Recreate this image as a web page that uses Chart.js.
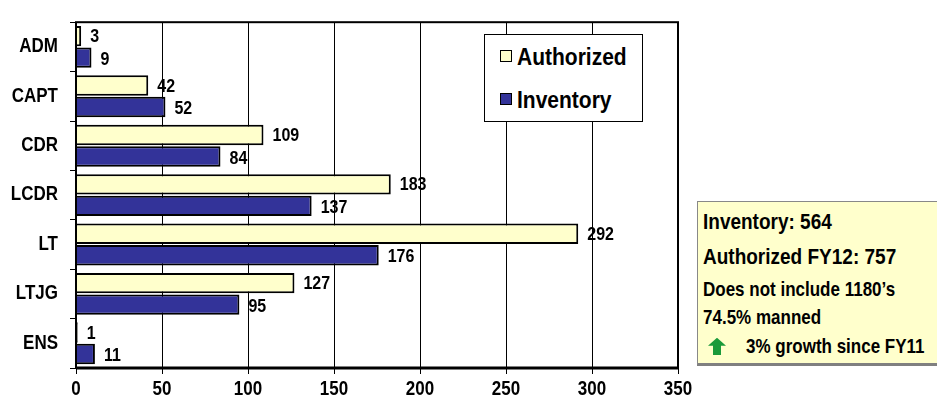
<!DOCTYPE html>
<html>
<head>
<meta charset="utf-8">
<script src="https://cdn.jsdelivr.net/npm/chart.js@4"></script>
<style>
  body { margin: 0; background: #fff; font-family: "Liberation Sans", Arial, sans-serif; }
  #wrap { position: relative; width: 937px; height: 405px; overflow: hidden; }
  #c { position: absolute; left: 0; top: 0; }
  .legend { position: absolute; left: 484px; top: 34px; width: 159px; height: 88px; background: #fff; border: 1.5px solid #000; box-sizing: border-box; }
  .legend div { position: absolute; left: 15px; font-weight: bold; font-size: 21px; line-height: 24px; color: #000; white-space: nowrap; }
  .legend span { display: inline-block; width: 10px; height: 10px; border: 1.5px solid #000; margin-right: 5px; vertical-align: 2px; }
  .legend b { display: inline-block; transform: scaleY(1.15); }
  .info { position: absolute; left: 697px; top: 201px; width: 245px; height: 165px; background: #FFFFCC; border: 1px solid #888; border-bottom: 3px solid #808080; box-sizing: border-box; font-weight: bold; color: #000; }
  .info div { position: absolute; left: 5px; white-space: nowrap; transform: scaleY(1.15); transform-origin: left center; }
</style>
</head>
<body>
<div id="wrap">
  <canvas id="c" width="937" height="405"></canvas>
  <div class="legend">
    <div style="top:10px"><span style="background:#FFFFCC"></span><b>Authorized</b></div>
    <div style="top:53px"><span style="background:#333399"></span><b>Inventory</b></div>
  </div>
  <div class="info">
    <div style="top:9px;font-size:19px">Inventory: 564</div>
    <div style="top:44px;font-size:19px">Authorized FY12: 757</div>
    <div style="top:78px;font-size:17px">Does not include 1180’s</div>
    <div style="top:106px;font-size:17px">74.5% manned</div>
    <div style="top:135px;left:10px;font-size:17px"><svg width="18" height="15" style="vertical-align:-2px;margin-right:20px"><polygon points="9,0 18,7 13,7 13,15 5,15 5,7 0,7" fill="#1a9a3a"/></svg>3% growth since FY11</div>
  </div>
</div>
<script>
const categories = ["ADM", "CAPT", "CDR", "LCDR", "LT", "LTJG", "ENS"];
const authorized = [3, 42, 109, 183, 292, 127, 1];
const inventory = [9, 52, 84, 137, 176, 95, 11];
const xTicks = [0, 50, 100, 150, 200, 250, 300, 350];

const FONT = "bold 17px 'Liberation Sans', Arial, sans-serif";
const STRETCH = 1.15;

// text in the reference is a bit taller than wide
function tallText(ctx, text, x, y, align) {
  ctx.save();
  ctx.translate(x, y);
  ctx.scale(1, STRETCH);
  ctx.textAlign = align;
  ctx.textBaseline = "middle";
  ctx.fillText(text, 0, 0);
  ctx.restore();
}

const labels = {
  id: "labels",
  afterDraw(chart) {
    const ctx = chart.ctx;
    ctx.save();
    ctx.fillStyle = "#000";
    ctx.font = "bold 16px 'Liberation Sans', Arial, sans-serif";
    chart.data.datasets.forEach((ds, i) => {
      chart.getDatasetMeta(i).data.forEach((bar, j) => {
        tallText(ctx, String(ds.data[j]), bar.x + 9, bar.y + (i === 0 ? 1 : 2), "left");
      });
    });
    ctx.font = FONT;
    const xs = chart.scales.x, ys = chart.scales.y;
    xs.ticks.forEach((t, k) => tallText(ctx, String(t.value), xs.getPixelForTick(k), xs.bottom - 15, "center"));
    ys.ticks.forEach((t, k) => tallText(ctx, categories[t.value], ys.getPixelForTick(k) === undefined ? 0 : ys.right - 18, ys.getPixelForTick(k), "right"));
    ctx.restore();
  }
};

const frame = {
  id: "frame",
  afterDraw(chart) {
    const a = chart.chartArea;
    const ctx = chart.ctx;
    ctx.save();
    ctx.strokeStyle = "#000";
    ctx.lineWidth = 2;
    ctx.strokeRect(a.left, a.top, a.right - a.left, a.bottom - a.top);
    ctx.lineWidth = 3;
    ctx.beginPath();
    ctx.moveTo(a.left, a.bottom);
    ctx.lineTo(a.right, a.bottom);
    ctx.stroke();
    ctx.restore();
  }
};

new Chart(document.getElementById("c").getContext("2d"), {
  type: "bar",
  data: {
    labels: categories,
    datasets: [
      { label: "Authorized", data: authorized, backgroundColor: "#FFFFCC", borderColor: "#000", borderWidth: 2, categoryPercentage: 0.87, barPercentage: 0.95 },
      { label: "Inventory", data: inventory, backgroundColor: "#333399", borderColor: "#000", borderWidth: 2, categoryPercentage: 0.87, barPercentage: 0.95 }
    ]
  },
  options: {
    indexAxis: "y",
    responsive: false,
    animation: false,
    layout: { padding: { top: 6, right: 259, left: 0, bottom: 0 } },
    plugins: { legend: { display: false }, tooltip: { enabled: false } },
    scales: {
      x: {
        min: 0,
        max: 350,
        afterBuildTicks(scale) { scale.ticks = xTicks.map(v => ({ value: v })); },
        afterFit(scale) { scale.height = 37; },
        border: { display: false },
        grid: { color: "#000", lineWidth: 1, tickLength: 6, tickColor: "#000" },
        ticks: { color: "rgba(0,0,0,0)", padding: 5, font: { size: 17, weight: "bold" } }
      },
      y: {
        afterFit(scale) { scale.width = 76; },
        border: { display: false },
        grid: { offset: true, drawOnChartArea: false, tickLength: 6, color: "#000", lineWidth: 1 },
        ticks: { color: "rgba(0,0,0,0)", padding: 12, font: { size: 17, weight: "bold" } }
      }
    }
  },
  plugins: [frame, labels]
});
</script>
</body>
</html>
